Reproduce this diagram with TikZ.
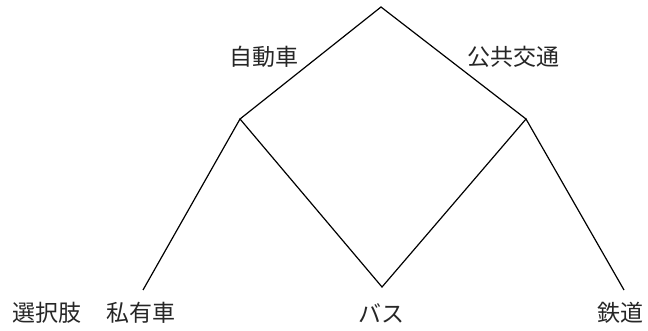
\documentclass[tikz,border=0pt]{standalone}
\usepackage{fontspec}
\newfontfamily\cjk{Noto Sans CJK JP}
\tikzset{
  branch/.style={draw=black, line width=1.2pt},
  lbl/.style={font=\cjk\fontsize{23}{26}\selectfont, inner sep=0pt, text=black!85}
}
\begin{document}
\begin{tikzpicture}[x=1pt,y=-1pt]
\useasboundingbox (0,0) rectangle (648,331);
\coordinate (top) at (381,7);
\coordinate (car) at (240,119);
\coordinate (pub) at (526,119);
\coordinate (priv) at (143,290);
\coordinate (bus) at (382,287);
\coordinate (rail) at (624,290);
\draw[branch] (car) -- (top) -- (pub);
\draw[branch] (priv) -- (car) -- (bus) -- (pub) -- (rail);
\node[lbl] (tcar) at (264,57) {自動車};
\node[lbl] (tpub) at (513,57) {公共交通};
\node[lbl] (tsel) at (47,313) {選択肢};
\node[lbl] (tpriv) at (141,313) {私有車};
\node[lbl] (tbus) at (381,313) {バス};
\node[lbl] (trail) at (620,313) {鉄道};
\end{tikzpicture}
\end{document}
